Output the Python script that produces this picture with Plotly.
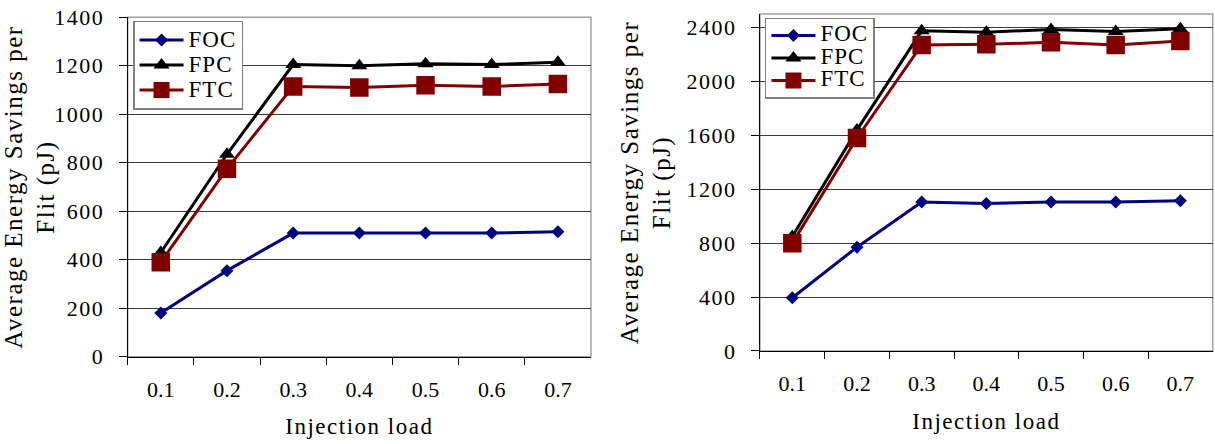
import plotly.graph_objects as go

# Injection load categories
loads = ["0.1", "0.2", "0.3", "0.4", "0.5", "0.6", "0.7"]

# Left panel: average energy savings per flit (pJ)
left_foc = [180, 355, 510, 510, 510, 510, 515]
left_fpc = [430, 835, 1205, 1200, 1208, 1205, 1215]
left_ftc = [390, 775, 1115, 1110, 1120, 1115, 1125]

# Right panel: average energy savings per flit (pJ)
right_foc = [395, 770, 1105, 1095, 1105, 1105, 1115]
right_fpc = [850, 1640, 2375, 2365, 2385, 2370, 2390]
right_ftc = [800, 1580, 2270, 2275, 2290, 2270, 2300]

# Y tick values for each panel
left_yticks = [0, 200, 400, 600, 800, 1000, 1200, 1400]
right_yticks = [0, 400, 800, 1200, 1600, 2000, 2400]

series_names = ["FOC", "FPC", "FTC"]
x_title = "Injection load"
y_title_lines = ["Average Energy Savings per", "Flit (pJ)"]

FONT = "Liberation Serif, Times New Roman, serif"
styles = {
    "FOC": dict(color="#000080", symbol="diamond", size=10),
    "FPC": dict(color="#000000", symbol="triangle-up", size=14),
    "FTC": dict(color="#800000", symbol="square", size=18.5),
}


def spaced(text, spacing, size=None):
    """Wrap text in a span with widened letter spacing (and optional size)."""
    style = f"letter-spacing:{spacing}px"
    if size:
        style = f"font-size:{size}px;" + style
    return f"<span style='{style}'>{text}</span>"


fig = go.Figure()

panels = [
    ("x", "y", "legend", [left_foc, left_fpc, left_ftc]),
    ("x2", "y2", "legend2", [right_foc, right_fpc, right_ftc]),
]
for xa, ya, lg, values in panels:
    for name, vals in zip(series_names, values):
        st = styles[name]
        fig.add_trace(go.Scatter(
            x=loads, y=vals, name=spaced(name, 1, 23), mode="lines+markers",
            xaxis=xa, yaxis=ya, legend=lg,
            line=dict(color=st["color"], width=3),
            marker=dict(color=st["color"], symbol=st["symbol"], size=st["size"]),
        ))

tick_font = dict(family=FONT, size=22, color="black")


def xaxis_cfg(domain, anchor, label_gap, title_gap):
    return dict(
        domain=domain, anchor=anchor, type="category", automargin=False,
        range=[-0.5, 6.5], tickson="boundaries",
        ticks="outside", ticklen=7, tickcolor="black", ticklabelstandoff=label_gap,
        showline=True, linecolor="black", linewidth=1,
        showgrid=False, tickfont=tick_font,
        title=dict(text=spaced(x_title, 1.5),
                   font=dict(family=FONT, size=23, color="black"), standoff=title_gap),
    )


def yaxis_cfg(domain, anchor, rng, ticks, title_gap):
    return dict(
        domain=domain, anchor=anchor, range=rng, automargin=False,
        tickmode="array", tickvals=ticks, ticktext=[spaced(str(t), 1.5) for t in ticks],
        ticks="outside", ticklen=8, tickcolor="black", ticklabelstandoff=10,
        showline=True, linecolor="black", linewidth=1,
        showgrid=True, gridcolor="#3a3a3a", gridwidth=1,
        zeroline=False, tickfont=tick_font,
        title=dict(text="<br>".join(spaced(t, 1.5) for t in y_title_lines),
                   font=dict(family=FONT, size=25, color="black"), standoff=title_gap),
    )


legend_common = dict(
    bgcolor="white", bordercolor="#808080", borderwidth=1.5,
    xanchor="left", yanchor="top", tracegroupgap=0, itemwidth=44,
)

fig.update_layout(
    width=1215, height=444,
    margin=dict(l=0, r=0, t=0, b=0, autoexpand=False),
    paper_bgcolor="white", plot_bgcolor="white",
    font=dict(family=FONT, color="black"),
    xaxis=xaxis_cfg([0.1051, 0.4864], "y", 13, 16),
    yaxis=yaxis_cfg([0.1966, 0.961], "x", [0, 1400], left_yticks, 2),
    xaxis2=xaxis_cfg([0.6255, 0.9981], "y2", 13, 17),
    yaxis2=yaxis_cfg([0.2095, 0.9685], "x2", [0, 2500], right_yticks, 8),
    # legend font sizes set the row pitch; the glyphs themselves are sized in the names
    legend=dict(x=0.1095, y=0.953, font=dict(family=FONT, size=17), **legend_common),
    legend2=dict(x=0.6296, y=0.96, font=dict(family=FONT, size=15), **legend_common),
    shapes=[
        dict(type="rect", xref="x domain", yref="y domain", x0=0, x1=1, y0=0, y1=1,
             line=dict(color="#a0a0a0", width=1.5), layer="below"),
        dict(type="rect", xref="x2 domain", yref="y2 domain", x0=0, x1=1, y0=0, y1=1,
             line=dict(color="#a0a0a0", width=1.5), layer="below"),
    ],
)

fig.write_html("out.html")
